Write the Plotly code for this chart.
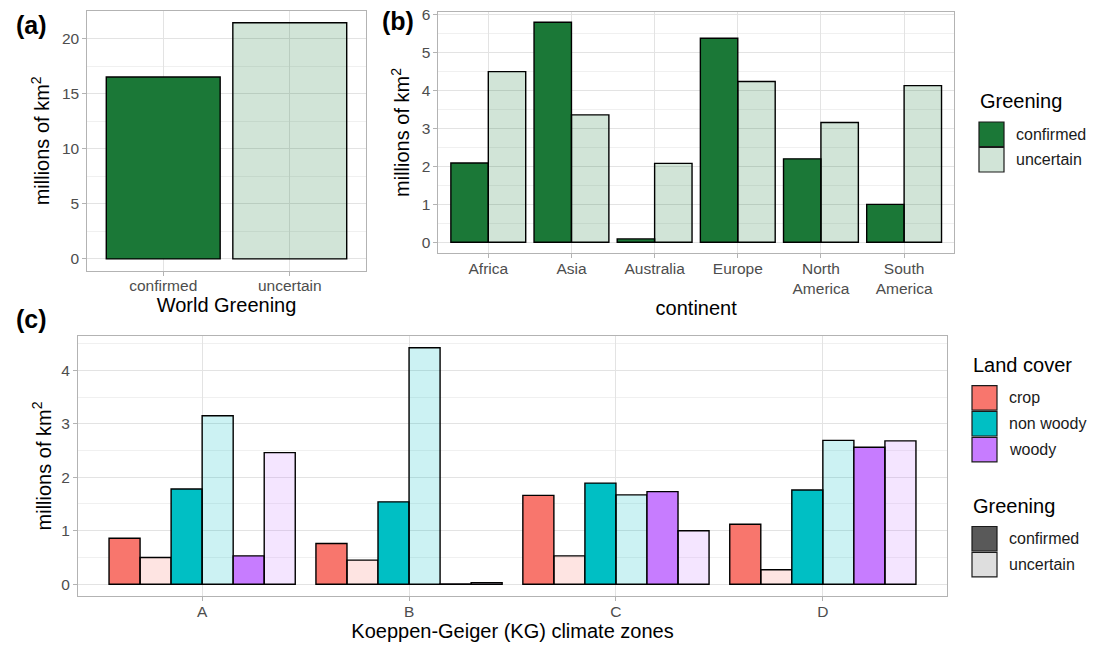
import plotly.graph_objects as go

# ---------------- data ----------------
world_cats = ["confirmed", "uncertain"]
world_vals = [16.5, 21.42]

continents = ["Africa", "Asia", "Australia", "Europe", "North<br>America", "South<br>America"]
cont_confirmed = [2.09, 5.80, 0.09, 5.38, 2.20, 1.00]
cont_uncertain = [4.50, 3.36, 2.08, 4.24, 3.16, 4.13]

kg_zones = ["A", "B", "C", "D"]
crop_confirmed = [0.86, 0.76, 1.66, 1.12]
crop_uncertain = [0.50, 0.45, 0.53, 0.27]
nonwoody_confirmed = [1.78, 1.54, 1.89, 1.76]
nonwoody_uncertain = [3.15, 4.42, 1.67, 2.69]
woody_confirmed = [0.53, 0.005, 1.73, 2.56]
woody_uncertain = [2.46, 0.03, 1.00, 2.68]

land_cover_labels = ["crop", "non woody", "woody"]
greening_labels = ["confirmed", "uncertain"]

# ---------------- styles ----------------
FONT = "Liberation Sans, Arial, Helvetica, sans-serif"
GREEN = (27, 120, 55)
LC_COLORS = {"crop": (248, 118, 109), "non woody": (0, 191, 196), "woody": (199, 124, 255)}
ALPHA_UNC = 0.2


def rgba(c, a=1.0):
    return f"rgba({c[0]},{c[1]},{c[2]},{a})"


LINE = dict(color="black", width=1.4)
TICKFONT = dict(family=FONT, size=15.5, color="#4D4D4D")
TITLEFONT = dict(family=FONT, size=20, color="black")
GRID = "#E3E3E3"
MINOR = "#F0F0F0"
BORDER = "#B3B3B3"

fig = go.Figure()

# panel (a)
fig.add_trace(go.Bar(
    x=world_cats, y=world_vals,
    marker=dict(color=[rgba(GREEN), rgba(GREEN, ALPHA_UNC)], line=LINE),
    xaxis="x", yaxis="y", showlegend=False))

# panel (b)
fig.add_trace(go.Bar(x=continents, y=cont_confirmed, name="confirmed",
                     marker=dict(color=rgba(GREEN), line=LINE),
                     xaxis="x2", yaxis="y2", showlegend=False))
fig.add_trace(go.Bar(x=continents, y=cont_uncertain, name="uncertain",
                     marker=dict(color=rgba(GREEN, ALPHA_UNC), line=LINE),
                     xaxis="x2", yaxis="y2", showlegend=False))

# panel (c)
series_c = [
    ("crop", 1.0, crop_confirmed),
    ("crop", ALPHA_UNC, crop_uncertain),
    ("non woody", 1.0, nonwoody_confirmed),
    ("non woody", ALPHA_UNC, nonwoody_uncertain),
    ("woody", 1.0, woody_confirmed),
    ("woody", ALPHA_UNC, woody_uncertain),
]
for lc, a, vals in series_c:
    fig.add_trace(go.Bar(x=kg_zones, y=vals, name=lc,
                         marker=dict(color=rgba(LC_COLORS[lc], a), line=LINE),
                         xaxis="x3", yaxis="y3", showlegend=False))

# the page body margin is removed (post_script below), so the figure fills the window
W, H = 1101, 645


def px(x):
    return x / W


def py(y):
    return 1 - y / H


common_x = dict(showline=True, mirror=True, linecolor=BORDER, linewidth=1,
                showgrid=True, gridcolor=GRID, gridwidth=1, zeroline=False,
                ticks="outside", ticklen=4, tickcolor=BORDER, tickfont=TICKFONT,
                ticklabelstandoff=-3, automargin=False, fixedrange=True)
common_y = dict(showline=True, mirror=True, linecolor=BORDER, linewidth=1,
                showgrid=True, gridcolor=GRID, gridwidth=1, zeroline=False,
                ticks="outside", ticklen=4, tickcolor=BORDER, tickfont=TICKFONT,
                ticklabeloverflow="allow", automargin=False, fixedrange=True, tick0=0)

ytitle = "millions of km<sup>2</sup>"

fig.update_layout(
    width=W, height=H,
    margin=dict(l=0, r=0, t=0, b=0),
    paper_bgcolor="white", plot_bgcolor="white",
    font=dict(family=FONT),
    barmode="group", bargap=0.1, bargroupgap=0,
    xaxis=dict(common_x, domain=[px(87.3), px(365.7)], range=[-0.6, 1.6],
               title=dict(text="World Greening", font=TITLEFONT, standoff=3), anchor="y"),
    yaxis=dict(common_y, domain=[py(270.7), py(11)], range=[-1.071, 22.49], dtick=5,
               minor=dict(dtick=2.5, showgrid=True, gridcolor=MINOR, ticks=""),
               title=dict(text=ytitle, font=TITLEFONT, standoff=6), anchor="x"),
    xaxis2=dict(common_x, domain=[px(438.4), px(954)], range=[-0.6, 5.6],
                title=dict(text="continent", font=TITLEFONT, standoff=4), anchor="y2"),
    yaxis2=dict(common_y, domain=[py(253.3), py(11.7)], range=[-0.29, 6.08], dtick=1,
                minor=dict(dtick=0.5, showgrid=True, gridcolor=MINOR, ticks=""),
                title=dict(text=ytitle, font=TITLEFONT, standoff=6), anchor="x2"),
    xaxis3=dict(common_x, domain=[px(78), px(947)], range=[-0.6, 3.6],
                title=dict(text="Koeppen-Geiger (KG) climate zones", font=TITLEFONT, standoff=4),
                anchor="y3"),
    yaxis3=dict(common_y, domain=[py(596), py(336)], range=[-0.221, 4.641], dtick=1,
                minor=dict(dtick=0.5, showgrid=True, gridcolor=MINOR, ticks=""),
                title=dict(text=ytitle, font=TITLEFONT, standoff=4), anchor="x3"),
)

annotations = []
shapes = []

# panel tags
for tag, x, y in [("(a)", 14, 25), ("(b)", 380, 21), ("(c)", 14, 319)]:
    annotations.append(dict(text=f"<b>{tag}</b>", x=px(x), y=py(y), xref="paper", yref="paper",
                            xanchor="left", yanchor="middle", showarrow=False,
                            font=dict(family=FONT, size=25, color="black")))


def legend_block(title, title_y, x0, key_tops, labels, fills, key_h=24.5, key_w=25):
    annotations.append(dict(text=title, x=px(x0 - 1), y=py(title_y), xref="paper", yref="paper",
                            xanchor="left", yanchor="middle", showarrow=False,
                            font=dict(family=FONT, size=20, color="black")))
    for top, lab, fill in zip(key_tops, labels, fills):
        shapes.append(dict(type="rect", xref="paper", yref="paper",
                           x0=px(x0), x1=px(x0 + key_w), y0=py(top + key_h), y1=py(top),
                           fillcolor=fill, line=dict(color="#1A1A1A", width=1.2)))
        annotations.append(dict(text=lab, x=px(x0 + key_w + 10), y=py(top + key_h / 2),
                                xref="paper", yref="paper", xanchor="left", yanchor="middle",
                                showarrow=False, font=dict(family=FONT, size=16, color="#1A1A1A")))


# legend for (b)
legend_block("Greening", 101, 979, [122, 147.5], greening_labels,
             [rgba(GREEN), rgba(GREEN, ALPHA_UNC)])
# legends for (c)
legend_block("Land cover", 365, 972, [385.7, 411.5, 437.3], land_cover_labels,
             [rgba(LC_COLORS[k]) for k in land_cover_labels])
legend_block("Greening", 506, 972, [526.5, 552.3], greening_labels,
             [rgba((89, 89, 89)), rgba((89, 89, 89), ALPHA_UNC)])

fig.update_layout(annotations=annotations, shapes=shapes)

fig.write_html("out.html",
               config={"displayModeBar": False, "staticPlot": True},
               post_script="document.body.style.margin='0px';document.body.style.overflow='hidden';")
